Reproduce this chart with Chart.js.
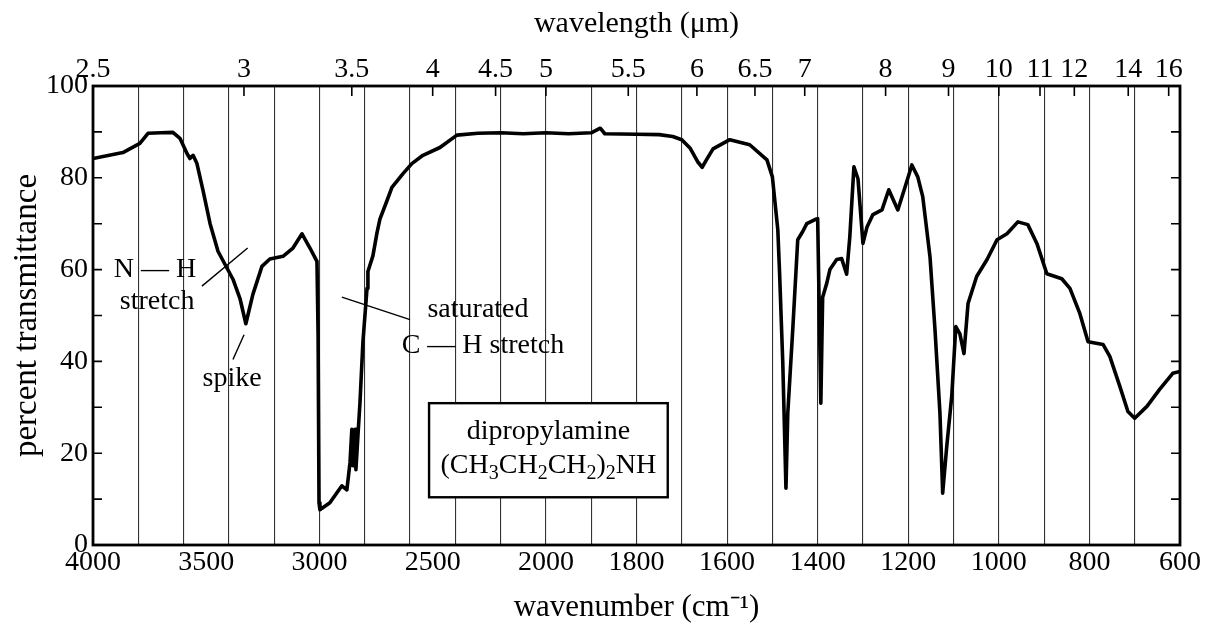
<!DOCTYPE html>
<html><head><meta charset="utf-8">
<script src="https://cdn.jsdelivr.net/npm/chart.js@4.4.1/dist/chart.umd.min.js"></script>
<style>html,body{margin:0;padding:0;background:#fff;} #wrap{width:1207px;height:631px;position:relative;}</style>
</head><body><div id="wrap"><canvas id="c" width="1207" height="631"></canvas></div>
<script>
// ---- data (wavenumber in cm^-1, percent transmittance) ----
const wavenumbers = [4000,3868,3793,3757,3700,3647,3616,3585,3572,3558,3541,3514,3483,3448,3408,3382,3351,3325,3294,3254,3219,3161,3117,3077,3042,3011,3006,3002,2998,2954,2923,2901,2879,2865,2857,2852,2843,2839,2830,2821,2808,2790,2786,2764,2746,2733,2702,2680,2631,2592,2543,2468,2393,2300,2200,2100,2000,1950,1900,1880,1870,1800,1750,1720,1700,1682,1665,1655,1645,1631,1594,1550,1512,1500,1488,1484,1477,1470,1466,1455,1444,1433,1424,1406,1400,1393,1389,1380,1373,1358,1347,1336,1329,1320,1311,1300,1291,1278,1258,1243,1223,1207,1192,1179,1168,1152,1141,1130,1124,1115,1104,1095,1086,1077,1068,1049,1026,1004,982,958,936,916,894,861,843,821,803,770,755,733,715,700,673,645,616,600];
const transmittance = [84.2,85.5,87.5,89.7,89.8,89.9,88.6,85.3,84.2,84.9,83.1,77.2,70,64,60.3,57.9,53.7,48.2,54.6,60.7,62.3,62.9,64.7,67.8,64.7,61.8,45.8,9.2,7.7,9.2,11.4,12.9,12,18,25.2,17.3,25.2,16.4,23.9,31.1,44.3,55.9,59.6,63,68,71,75,77.9,80.9,83.1,84.9,86.6,89.3,89.7,89.8,89.6,89.8,89.6,89.8,90.8,89.6,89.5,89.4,89,88.3,86.5,83.5,82.3,84,86.3,88.3,87.2,83.9,80.2,68.7,59,39.6,12.4,28.7,47,66.5,68.3,70,70.9,71.1,30.9,54,57,60,62.2,62.4,59,67.2,82.4,79.8,65.7,69.3,72,73,77.4,73,78,82.8,80.2,75.9,62.8,47,28.7,11.3,21.5,32.4,47.6,46,41.7,52.6,58.5,62.2,66.5,67.8,70.4,69.8,65.7,59.1,58,55.9,50.4,44.3,43.7,41.1,34.6,29.1,27.6,30.2,33.9,37.4,37.8];

// ---- tick labels ----
const wavenumberLabels = [4000,3500,3000,2500,2000,1800,1600,1400,1200,1000,800,600];
const gridWavenumbers = [3800,3600,3400,3200,3000,2800,2600,2400,2200,2000,1900,1800,1700,1600,1500,1400,1300,1200,1100,1000,900,800,700];
const wavelengthLabels = [2.5,3,3.5,4,4.5,5,5.5,6,6.5,7,8,9,10,11,12,14,16];
const yTickValues = [0,10,20,30,40,50,60,70,80,90,100];
const yLabelValues = [0,20,40,60,80,100];

const bottomTicks = Array.from(new Set([...wavenumberLabels, ...gridWavenumbers])).sort((a,b)=>b-a);
const topTicks = wavelengthLabels.map(l => 10000 / l);
const tickSets = { x: bottomTicks, x2: topTicks };

// piecewise IR wavenumber axis: 4000-2000 compressed (200 per division), 2000-600 (100 per division)
class WaveScale extends Chart.LinearScale {
  _u(v){ return v >= 2000 ? (4000 - v) / 200 : 10 + (2000 - v) / 100; }
  getPixelForValue(v){ return this.left + this._u(v) / 24 * this.width; }
  getValueForPixel(p){ const u = (p - this.left) / this.width * 24; return u <= 10 ? 4000 - u * 200 : 2000 - (u - 10) * 100; }
  buildTicks(){ return (tickSets[this.id] || []).map(v => ({ value: v })); }
}
WaveScale.id = 'wave';
WaveScale.defaults = Chart.LinearScale.defaults;
Chart.register(WaveScale);

const FONT = 'Liberation Serif';

const annotations = {
  id: 'annotations',
  afterDraw(chart){
    const ctx = chart.ctx, xs = chart.scales.x, ys = chart.scales.y, a = chart.chartArea;
    const X = v => xs.getPixelForValue(v), Y = v => ys.getPixelForValue(v);
    ctx.save();
    // frame
    ctx.strokeStyle = '#000'; ctx.lineWidth = 2.8;
    ctx.strokeRect(a.left, a.top, a.right - a.left, a.bottom - a.top);
    // inner y ticks
    ctx.lineWidth = 1.6;
    yTickValues.forEach(v => {
      const y = Y(v);
      ctx.beginPath(); ctx.moveTo(a.left, y); ctx.lineTo(a.left + 9, y);
      ctx.moveTo(a.right, y); ctx.lineTo(a.right - 9, y); ctx.stroke();
    });
    // inner top ticks at wavelength marks
    topTicks.forEach(v => {
      const x = X(v);
      ctx.beginPath(); ctx.moveTo(x, a.top); ctx.lineTo(x, a.top + 10); ctx.stroke();
    });
    // leader lines
    ctx.lineWidth = 1.4;
    const line = (w1,t1,w2,t2) => { ctx.beginPath(); ctx.moveTo(X(w1),Y(t1)); ctx.lineTo(X(w2),Y(t2)); ctx.stroke(); };
    line(3519,56.4,3317,64.7);
    line(3382,40.4,3333,45.8);
    line(2901,54,2600,49.1);
    // texts
    ctx.fillStyle = '#000';
    ctx.font = '28px "' + FONT + '"';
    ctx.textAlign = 'center'; ctx.textBaseline = 'middle';
    ctx.fillText('N \u2014 H', X(3726), Y(60));
    ctx.fillText('stretch', X(3717), Y(53));
    ctx.fillText('spike', X(3386), Y(36.2));
    ctx.fillText('saturated', X(2300), Y(51.3));
    ctx.fillText('C \u2014 H stretch', X(2278), Y(43.5));
    // compound box
    const bx1 = X(2516), bx2 = X(1731), by1 = Y(30.9), by2 = Y(10.4);
    ctx.fillStyle = '#fff'; ctx.fillRect(bx1, by1, bx2 - bx1, by2 - by1);
    ctx.strokeStyle = '#000'; ctx.lineWidth = 2.4; ctx.strokeRect(bx1, by1, bx2 - bx1, by2 - by1);
    ctx.fillStyle = '#000';
    ctx.fillText('dipropylamine', (bx1 + bx2) / 2, Y(24.6));
    // formula with subscripts
    const segs = [['(CH',0],['3',1],['CH',0],['2',1],['CH',0],['2',1],[')',0],['2',1],['NH',0]];
    const big = '28px "' + FONT + '"', small = '20px "' + FONT + '"';
    let total = 0;
    segs.forEach(s => { ctx.font = s[1] ? small : big; total += ctx.measureText(s[0]).width; });
    let cx = (bx1 + bx2) / 2 - total / 2; const cy = Y(17.2);
    ctx.textAlign = 'left';
    segs.forEach(s => { ctx.font = s[1] ? small : big; ctx.fillText(s[0], cx, s[1] ? cy + 8 : cy); cx += ctx.measureText(s[0]).width; });
    ctx.restore();
  }
};

const ctx = document.getElementById('c').getContext('2d');
new Chart(ctx, {
  type: 'line',
  data: {
    datasets: [{
      data: wavenumbers.map((w, i) => ({ x: w, y: transmittance[i] })),
      borderColor: '#000', borderWidth: 3.6, pointRadius: 0, tension: 0, fill: false,
      borderJoinStyle: 'round', borderCapStyle: 'round'
    }]
  },
  options: {
    responsive: false, animation: false, devicePixelRatio: 1,
    layout: { padding: { left: 0, right: 27, top: 0, bottom: 0 } },
    plugins: { legend: { display: false }, tooltip: { enabled: false } },
    scales: {
      x: {
        type: 'wave', position: 'bottom', min: 600, max: 4000,
        afterFit: s => { s.height = 86; },
        border: { display: false },
        grid: {
          drawTicks: false, lineWidth: 1.1,
          color: c => (c.tick && gridWavenumbers.includes(c.tick.value)) ? 'rgba(0,0,0,0.8)' : 'rgba(0,0,0,0)'
        },
        ticks: {
          autoSkip: false, maxRotation: 0, minRotation: 0, padding: 1, color: '#000',
          font: { family: FONT, size: 28 },
          callback: v => wavenumberLabels.includes(v) ? String(v) : ''
        },
        title: { display: true, text: 'wavenumber (cm\u207B\u00B9)', color: '#000', font: { family: FONT, size: 31 }, padding: { top: 0, bottom: 5 } }
      },
      x2: {
        type: 'wave', position: 'top', min: 600, max: 4000,
        afterFit: s => { s.height = 86; },
        border: { display: false },
        grid: { display: false, drawTicks: false },
        ticks: {
          autoSkip: false, maxRotation: 0, minRotation: 0, padding: 0, color: '#000',
          font: { family: FONT, size: 28 },
          callback: (v, i) => String(wavelengthLabels[i])
        },
        title: { display: true, text: 'wavelength (\u03BCm)', color: '#000', font: { family: FONT, size: 30 }, padding: { top: 6, bottom: 0 } }
      },
      y: {
        min: 0, max: 100,
        afterFit: s => { s.width = 93; },
        afterBuildTicks: s => { s.ticks = yTickValues.map(v => ({ value: v })); },
        border: { display: false },
        grid: { display: false, drawTicks: false },
        ticks: {
          autoSkip: false, padding: 5, color: '#000',
          font: { family: FONT, size: 28 },
          callback: v => yLabelValues.includes(v) ? String(v) : ''
        },
        title: { display: true, text: 'percent transmittance', color: '#000', font: { family: FONT, size: 33 }, padding: { top: 8, bottom: 0 } }
      }
    }
  },
  plugins: [annotations]
});
</script>
</body></html>
